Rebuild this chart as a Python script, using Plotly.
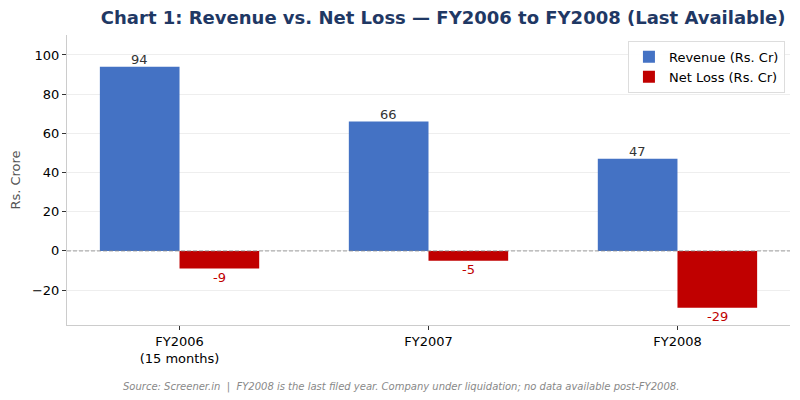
import plotly.graph_objects as go

categories = ["FY2006<br>(15 months)", "FY2007", "FY2008"]
revenue = [94, 66, 47]
net_loss = [-9, -5, -29]

W = 0.32
xs = list(range(len(categories)))
x_rev = [x - W / 2 for x in xs]
x_loss = [x + W / 2 for x in xs]

fig = go.Figure()
fig.add_trace(go.Bar(x=x_rev, y=revenue, width=W, name="Revenue (Rs. Cr)",
                     marker=dict(color="#4472C4", line=dict(width=0))))
fig.add_trace(go.Bar(x=x_loss, y=net_loss, width=W, name="Net Loss (Rs. Cr)",
                     marker=dict(color="#C00000", line=dict(width=0))))

for x, v in zip(x_rev, revenue):
    fig.add_annotation(x=x, y=v, text=str(v), showarrow=False, yanchor="bottom", yshift=-2,
                       font=dict(size=13, color="#333333", family="DejaVu Sans"))
for x, v in zip(x_loss, net_loss):
    fig.add_annotation(x=x, y=v, text=str(v), showarrow=False, yanchor="top", yshift=1,
                       font=dict(size=13, color="#C00000", family="DejaVu Sans"))

fig.add_shape(type="line", xref="paper", x0=0, x1=1, y0=0, y1=0,
              line=dict(color="#888888", width=0.8, dash="4px,2px"))

fig.add_annotation(xref="paper", yref="paper", x=0.462, y=-0.215, showarrow=False,
                   xanchor="center", yanchor="middle",
                   text="<i>Source: Screener.in  |  FY2008 is the last filed year. Company under liquidation; no data available post-FY2008.</i>",
                   font=dict(size=10, color="#888888", family="DejaVu Sans"))

fig.update_layout(
    width=800, height=400,
    margin=dict(l=67, r=10, t=35, b=75),
    paper_bgcolor="white", plot_bgcolor="white",
    font=dict(family="DejaVu Sans", color="#000000"),
    title=dict(text="<b>Chart 1: Revenue vs. Net Loss — FY2006 to FY2008 (Last Available)</b>",
               x=0.554, xanchor="center", y=0.955, yanchor="middle",
               font=dict(size=18, color="#1F3864", family="DejaVu Sans")),
    barmode="overlay",
    showlegend=True,
    legend=dict(x=0.993, y=0.98, xanchor="right", yanchor="top",
                bgcolor="rgba(255,255,255,0.9)", bordercolor="#dddddd", borderwidth=1,
                font=dict(size=13, color="#000000"), tracegroupgap=0, itemwidth=30),
    xaxis=dict(range=[-0.452, 2.452], tickmode="array", tickvals=xs, ticktext=categories,
               showgrid=False, zeroline=False, showline=True, linecolor="#cccccc", linewidth=1,
               ticks="outside", ticklen=4, tickcolor="#333333",
               tickfont=dict(size=13, color="#000000")),
    yaxis=dict(range=[-37.8, 110.2], tickvals=[-20, 0, 20, 40, 60, 80, 100],
               ticktext=["−20", "0", "20", "40", "60", "80", "100"],
               showgrid=True, gridcolor="#eeeeee", gridwidth=1, zeroline=False,
               showline=True, linecolor="#cccccc", linewidth=1,
               ticks="outside", ticklen=4, tickcolor="#333333",
               tickfont=dict(size=13, color="#000000"),
               title=dict(text="Rs. Crore", font=dict(size=13, color="#555555"), standoff=8)),
)

fig.write_html("out.html")
